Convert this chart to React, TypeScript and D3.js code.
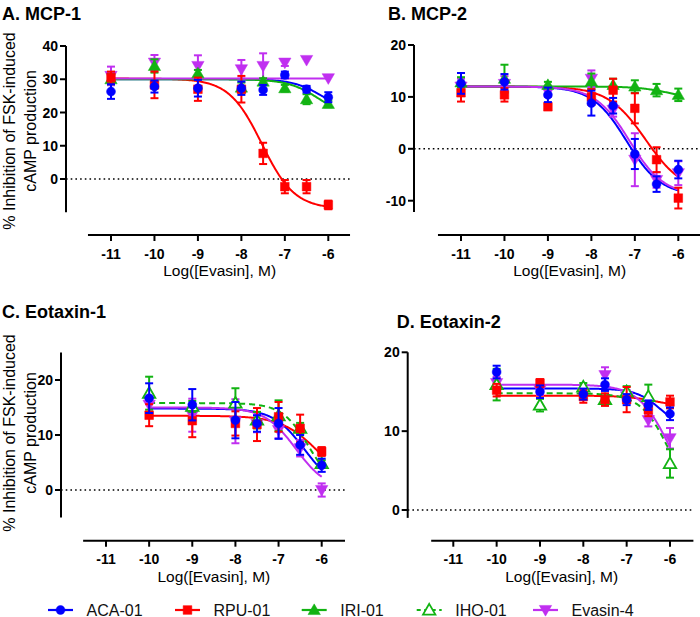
import React from "react";
import * as d3 from "d3";

// ---------- data ----------
const doseAB = [-11, -10, -9, -8, -7.5, -7, -6.5, -6];
const doseCD = [-10, -9, -8, -7.5, -7, -6.5, -6];
const xTicks = [-11, -10, -9, -8, -7, -6];

// Panel A — MCP-1
const mcp1_ACA = [26.3, 27.8, 27.3, 27.3, 26.8, 31.3, 27, 24.6];
const mcp1_ACA_sem = [2.2, 1.8, 2.5, 2, 1.5, 1, 1, 1.5];
const mcp1_RPU = [30.5, 28.3, 27, 27, 7.7, -2.3, -2.3, -7.8];
const mcp1_RPU_sem = [1.8, 4, 3.5, 4, 3.2, 2, 2, 1.3];
const mcp1_IRI = [30, 34, 31.8, 27.5, 29.3, 27.3, 24, 22.6];
const mcp1_IRI_sem = [1.5, 2, 1, 1.5, 1, 1, 1.5, 1];
const mcp1_EVA = [31, 35, 34, 33, 34, 35, 35.8, 30.3];
const mcp1_EVA_sem = [2.8, 2.3, 3.2, 2.8, 3.8, 1, 0, 0];
const mcp1_fit_ACA = [30, 20, -6.15, 1.3];
const mcp1_fit_RPU = [30.2, -9, -7.53, 1.15];
const mcp1_fit_IRI = [30, 18, -6.2, 1.2];
const mcp1_fit_EVA = [30.2, 30.2, -7, 1];

// Panel B — MCP-2
const mcp2_ACA = [12.6, 12.9, 10.4, 8.8, 8.3, -1.0, -6.8, -4.0];
const mcp2_ACA_sem = [2, 1.5, 1.4, 2.4, 1.5, 2.9, 1.5, 1.7];
const mcp2_RPU = [10.8, 10.4, 8.1, 10, 11.3, 7.8, -2.1, -9.5];
const mcp2_RPU_sem = [1.7, 1.3, 0.5, 1.5, 2.2, 2.9, 2.4, 2];
const mcp2_IRI = [12.8, 13.5, 12.3, 13, 12.3, 12, 11.3, 10.4];
const mcp2_IRI_sem = [1, 2.7, 0.6, 1.5, 1.2, 1.2, 1.2, 1.2];
const mcp2_EVA = [12, 12.5, 11, 13.5, 7.5, -2.1, -6, -4.7];
const mcp2_EVA_sem = [1.5, 1.5, 1, 1.6, 1.3, 5.1, 1.5, 2.3];
const mcp2_fit_ACA = [12, -9, -7.19, 1.1];
const mcp2_fit_RPU = [12, -8.5, -6.75, 1];
const mcp2_fit_IRI = [12, 9.5, -6.2, 1.2];
const mcp2_fit_EVA = [12, -9, -7.12, 1.1];

// Panel C — Eotaxin-1
const eot1_ACA = [16.7, 15.5, 12.7, 12.1, 12.1, 8.2, 4.5];
const eot1_ACA_sem = [2.7, 2.85, 3.3, 1.5, 2.8, 1.8, 1.2];
const eot1_RPU = [13.6, 12.6, 12.1, 11.9, 13.3, 11.2, 7.0];
const eot1_RPU_sem = [2, 3, 2.2, 3, 2.7, 2.5, 0.8];
const eot1_IHO = [17.6, 15.2, 15.8, 12.7, 13.5, 11.2, 4.8];
const eot1_IHO_sem = [3, 1, 2.7, 1.5, 2.8, 1, 0.6];
const eot1_EVA = [15.5, 13.6, 12.5, 12, 10.9, 7.6, 0];
const eot1_EVA_sem = [1.5, 3, 4, 1.5, 1.5, 1.5, 1.2];
const eot1_fit_ACA = [14.8, 0, -6.4, 1.2];
const eot1_fit_RPU = [13.5, 0, -6.05, 1];
const eot1_fit_IHO = [15.8, 0, -6.3, 1.4];
const eot1_fit_EVA = [15, 0, -6.6, 1.2];

// Panel D — Eotaxin-2
const eot2_ACA = [17.5, 15, 14.7, 15.9, 14, 13.3, 12.2];
const eot2_ACA_sem = [0.8, 0.8, 0.7, 0.8, 0.7, 0.6, 0.8];
const eot2_RPU = [15.2, 16.1, 14.4, 14, 14, 12.7, 13.7];
const eot2_RPU_sem = [0.8, 0.5, 0.8, 0.8, 1.6, 0.8, 0.8];
const eot2_IHO = [15.9, 13.3, 15.6, 14, 15, 14.4, 5.9];
const eot2_IHO_sem = [2, 0.8, 0.5, 0.5, 0.7, 1.5, 1.8];
const eot2_EVA = [16.1, 15.2, 14.8, 17.1, 14.4, 11.4, 9.1];
const eot2_EVA_sem = [0.8, 0.6, 0.6, 1, 0.8, 0.8, 1.3];
const eot2_fit_ACA = [15.4, 10, -6.2, 1.5];
const eot2_fit_RPU = [14.5, 13, -6.3, 1.2];
const eot2_fit_IHO = [14.8, 0, -6.0, 1.3];
const eot2_fit_EVA = [15.9, 0, -6.0, 1.2];

const seriesNames = ["ACA-01", "RPU-01", "IRI-01", "IHO-01", "Evasin-4"];

// ---------- styles ----------
const STYLE: Record<string, { color: string; shape: string; dashed?: boolean; open?: boolean }> = {
  "ACA-01": { color: "#0000ff", shape: "circle" },
  "RPU-01": { color: "#ff0000", shape: "square" },
  "IRI-01": { color: "#12b312", shape: "triUp" },
  "IHO-01": { color: "#12b312", shape: "triUp", dashed: true, open: true },
  "Evasin-4": { color: "#c02ff0", shape: "triDown" },
};

const FONT = "'Liberation Sans', Arial, Helvetica, sans-serif";

type Series = { name: string; y: number[]; sem: number[]; fit: number[] };

const panels = [
  {
    title: "A. MCP-1", titleX: 2, titleY: 20,
    dose: doseAB, curveFrom: -11,
    xr: [111, 328.3], axisY: 235, xDom: [-11.53, -5.5],
    yd: [0, 40], yr: [179, 46], yAxisX: 66, yExt: [-10, 40], yTicks: [0, 10, 20, 30, 40],
    ylabel: true, ylabelY: 131,
    series: [
      { name: "ACA-01", y: mcp1_ACA, sem: mcp1_ACA_sem, fit: mcp1_fit_ACA },
      { name: "RPU-01", y: mcp1_RPU, sem: mcp1_RPU_sem, fit: mcp1_fit_RPU },
      { name: "IRI-01", y: mcp1_IRI, sem: mcp1_IRI_sem, fit: mcp1_fit_IRI },
      { name: "Evasin-4", y: mcp1_EVA, sem: mcp1_EVA_sem, fit: mcp1_fit_EVA },
    ] as Series[],
  },
  {
    title: "B. MCP-2", titleX: 388, titleY: 20,
    dose: doseAB, curveFrom: -11,
    xr: [461, 678.3], axisY: 235, xDom: [-11.53, -5.5],
    yd: [-10, 20], yr: [200.7, 45], yAxisX: 414, yExt: [-12.2, 20], yTicks: [-10, 0, 10, 20],
    ylabel: false, ylabelY: 0,
    series: [
      { name: "ACA-01", y: mcp2_ACA, sem: mcp2_ACA_sem, fit: mcp2_fit_ACA },
      { name: "RPU-01", y: mcp2_RPU, sem: mcp2_RPU_sem, fit: mcp2_fit_RPU },
      { name: "IRI-01", y: mcp2_IRI, sem: mcp2_IRI_sem, fit: mcp2_fit_IRI },
      { name: "Evasin-4", y: mcp2_EVA, sem: mcp2_EVA_sem, fit: mcp2_fit_EVA },
    ] as Series[],
  },
  {
    title: "C. Eotaxin-1", titleX: 2, titleY: 318,
    dose: doseCD, curveFrom: -10,
    xr: [106, 321.7], axisY: 540.7, xDom: [-11.53, -5.46],
    yd: [0, 20], yr: [490, 380], yAxisX: 61, yExt: [-5, 25], yTicks: [0, 10, 20],
    ylabel: true, ylabelY: 433,
    series: [
      { name: "ACA-01", y: eot1_ACA, sem: eot1_ACA_sem, fit: eot1_fit_ACA },
      { name: "RPU-01", y: eot1_RPU, sem: eot1_RPU_sem, fit: eot1_fit_RPU },
      { name: "IHO-01", y: eot1_IHO, sem: eot1_IHO_sem, fit: eot1_fit_IHO },
      { name: "Evasin-4", y: eot1_EVA, sem: eot1_EVA_sem, fit: eot1_fit_EVA },
    ] as Series[],
  },
  {
    title: "D. Eotaxin-2", titleX: 396.7, titleY: 328,
    dose: doseCD, curveFrom: -10,
    xr: [453.3, 670], axisY: 540.7, xDom: [-11.51, -5.46],
    yd: [0, 20], yr: [510, 352.3], yAxisX: 407.7, yExt: [-1, 20], yTicks: [0, 10, 20],
    ylabel: false, ylabelY: 0,
    series: [
      { name: "ACA-01", y: eot2_ACA, sem: eot2_ACA_sem, fit: eot2_fit_ACA },
      { name: "RPU-01", y: eot2_RPU, sem: eot2_RPU_sem, fit: eot2_fit_RPU },
      { name: "IHO-01", y: eot2_IHO, sem: eot2_IHO_sem, fit: eot2_fit_IHO },
      { name: "Evasin-4", y: eot2_EVA, sem: eot2_EVA_sem, fit: eot2_fit_EVA },
    ] as Series[],
  },
];

function fourPL(p: number[], x: number) {
  const [top, bottom, ec, hill] = p;
  return bottom + (top - bottom) / (1 + Math.pow(10, (x - ec) * hill));
}

function symbolPath(shape: string) {
  if (shape === "circle") return d3.symbol(d3.symbolCircle, 62)()!;
  if (shape === "square") return d3.symbol(d3.symbolSquare, 75)()!;
  return d3.symbol(d3.symbolTriangle, 66)()!;
}

function Marker({ name, x, y }: { name: string; x: number; y: number }) {
  const st = STYLE[name];
  const rot = st.shape === "triDown" ? 180 : 0;
  const dy = st.shape === "triUp" ? 1 : st.shape === "triDown" ? -1 : 0;
  return (
    <path
      d={symbolPath(st.shape)}
      transform={`translate(${x},${y + dy}) rotate(${rot})`}
      fill={st.open ? "#fff" : st.color}
      stroke={st.color}
      strokeWidth={st.open ? 1.8 : 0.5}
    />
  );
}

function Panel({ p }: { p: (typeof panels)[number] }) {
  const x = d3.scaleLinear().domain([-11, -6]).range(p.xr);
  const y = d3.scaleLinear().domain(p.yd).range(p.yr);
  const xL = x(p.xDom[0]);
  const xR = x(p.xDom[1]);
  const samples = d3.range(0, 201).map((i) => p.curveFrom + (i / 200) * (-6 - p.curveFrom));
  const pointOrder = [...p.series].reverse();
  return (
    <g>
      <text x={p.titleX} y={p.titleY} fontFamily={FONT} fontWeight="bold" fontSize={18} fill="#000">
        {p.title}
      </text>
      <line x1={p.yAxisX} x2={xR} y1={y(0)} y2={y(0)} stroke="#000" strokeWidth={1.6} strokeDasharray="1.6,3.1" />
      <line x1={p.yAxisX} x2={p.yAxisX} y1={y(p.yExt[0])} y2={y(p.yExt[1])} stroke="#000" strokeWidth={2} />
      {p.yTicks.map((t) => (
        <g key={t}>
          <line x1={p.yAxisX - 6} x2={p.yAxisX} y1={y(t)} y2={y(t)} stroke="#000" strokeWidth={2} />
          <text
            x={p.yAxisX - 8}
            y={y(t)}
            dy="0.36em"
            textAnchor="end"
            fontFamily={FONT}
            fontWeight="bold"
            fontSize={14}
          >
            {t}
          </text>
        </g>
      ))}
      <line x1={xL} x2={xR} y1={p.axisY} y2={p.axisY} stroke="#000" strokeWidth={2} />
      {xTicks.map((t) => (
        <g key={t}>
          <line x1={x(t)} x2={x(t)} y1={p.axisY} y2={p.axisY + 6} stroke="#000" strokeWidth={2} />
          <text x={x(t)} y={p.axisY + 23.5} textAnchor="middle" fontFamily={FONT} fontWeight="bold" fontSize={14}>
            {t}
          </text>
        </g>
      ))}
      <text x={(x(-11) + x(-6)) / 2} y={p.axisY + 41} textAnchor="middle" fontFamily={FONT} fontSize={15.5}>
        Log([Evasin], M)
      </text>
      {p.ylabel && (
        <text transform={`translate(15,${p.ylabelY}) rotate(-90)`} textAnchor="middle" fontFamily={FONT} fontSize={16}>
          % Inhibition of FSK-induced
        </text>
      )}
      {p.ylabel && (
        <text transform={`translate(36,${p.ylabelY}) rotate(-90)`} textAnchor="middle" fontFamily={FONT} fontSize={16}>
          cAMP production
        </text>
      )}
      {p.series.map((s) => {
        const st = STYLE[s.name];
        const pts = samples.map((v) => [x(v), y(fourPL(s.fit, v))] as [number, number]);
        const path = d3.line()(pts)!;
        return (
          <path
            key={"c" + s.name}
            d={path}
            fill="none"
            stroke={st.color}
            strokeWidth={2}
            strokeDasharray={st.dashed ? "6,4" : undefined}
          />
        );
      })}
      {pointOrder.map((s) => {
        const st = STYLE[s.name];
        return (
          <g key={"p" + s.name}>
            {p.dose.map((d, i) => {
              const cx = x(d);
              const e = s.sem[i];
              if (e <= 0) return null;
              const y1 = y(s.y[i] + e);
              const y2 = y(s.y[i] - e);
              return (
                <g key={i} stroke={st.color} strokeWidth={2}>
                  <line x1={cx} x2={cx} y1={y1} y2={y2} />
                  <line x1={cx - 4} x2={cx + 4} y1={y1} y2={y1} />
                  <line x1={cx - 4} x2={cx + 4} y1={y2} y2={y2} />
                </g>
              );
            })}
            {p.dose.map((d, i) => (
              <Marker key={"m" + i} name={s.name} x={x(d)} y={y(s.y[i])} />
            ))}
          </g>
        );
      })}
    </g>
  );
}

const legendX = [48, 175, 301.7, 416.7, 533];

function Legend() {
  const ly = 610;
  return (
    <g>
      {seriesNames.map((n, i) => {
        const st = STYLE[n];
        const x0 = legendX[i];
        return (
          <g key={n}>
            <line
              x1={x0}
              x2={x0 + 25}
              y1={ly}
              y2={ly}
              stroke={st.color}
              strokeWidth={2.2}
              strokeDasharray={st.dashed ? "4,3.5" : undefined}
            />
            <Marker name={n} x={x0 + 12.5} y={ly} />
            <text x={x0 + 38.5} y={ly + 5.5} fontFamily={FONT} fontSize={16} fill="#111">
              {n}
            </text>
          </g>
        );
      })}
    </g>
  );
}

export default function App() {
  return (
    <svg
      width={700}
      height={617}
      viewBox="0 0 700 617"
      style={{ position: "absolute", left: 0, top: 0, background: "#fff" }}
    >
      <rect width={700} height={617} fill="#fff" />
      {panels.map((p) => (
        <Panel key={p.title} p={p} />
      ))}
      <Legend />
    </svg>
  );
}
